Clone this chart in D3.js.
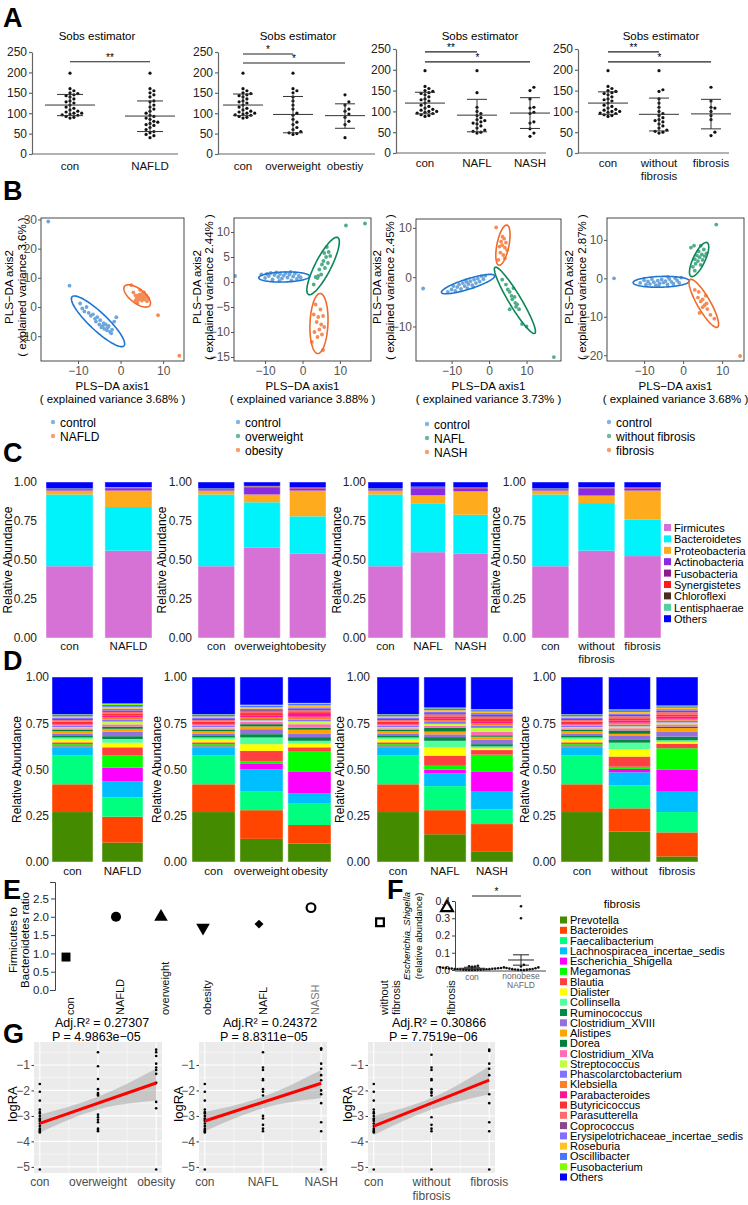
<!DOCTYPE html>
<html><head><meta charset="utf-8">
<script src="https://cdn.jsdelivr.net/npm/d3@7"></script>
<style>body{margin:0;background:#fff} svg{display:block}</style>
</head><body>
<svg id="fig" width="748" height="1205"></svg>
<script>
const FONT = "Arial, 'Liberation Sans', Helvetica, sans-serif"
const svg = d3.select("#fig").attr("font-family", FONT)

// ---------------- data ----------------
// A: Sobs estimator
const sobsCon = [198,160,155,150,148,145,143,140,135,130,128,125,120,115,112,108,105,103,100,100,98,96,95,92,90,88]
const sobsNAFLD = [198,160,155,150,145,140,130,128,120,115,110,105,100,95,92,88,85,80,78,75,72,70,65,60,55,52,48,45,40]
const sobsOverweight = [198,160,155,150,140,130,120,110,100,95,85,78,72,65,60,55,52,50,48]
const sobsObesity = [145,128,120,110,105,98,90,80,72,40]
const sobsNAFL = [198,145,110,100,95,90,85,80,78,75,72,70,65,60,55,52,50,48]
const sobsNASH = [158,150,130,110,108,98,95,75,72,58,48,40]
const sobsWithout = [198,152,148,130,120,110,100,95,90,85,80,78,75,70,65,60,55,52,50,48]
const sobsFibrosis = [158,125,110,108,100,90,80,50,42]
// mean, upper, lower
const sobsStats1 = [[120,146,94],[93,130,55]]
const sobsStats2 = [[120,147,94],[97,141,52],[94,123,63]]
const sobsStats3 = [[120,146,94],[91,129,51],[96,133,59]]
const sobsStats4 = [[120,147,93],[93,132,53],[94,129,58]]
const sobsSig1 = [[0,1,226,"**"]]
const sobsSig2 = [[0,1,245,"*"],[0,2,223,"*"]]
const sobsSig3 = [[0,1,243,"**"],[0,2,219,"*"]]
const sobsSig4 = [[0,1,243,"**"],[0,2,219,"*"]]

// B: PLS-DA scores
const plsCon1 = [[-17,29.3],[-12,7.3],[-9.5,1.2],[-9,-0.5],[-8.5,-1.5],[-8,0],[-7.5,-2],[-7,-3],[-6.5,-2.5],[-6,-4],[-5.8,-5],[-5.5,-3.5],[-5,-6],[-4.8,-4.5],[-4.5,-7],[-4.2,-6.5],[-4,-5.5],[-3.8,-7.5],[-3.5,-6],[-3.2,-8],[-3,-7],[-2.8,-6.5],[-2.5,-8.5],[-2,-7.8],[-1.5,-5],[-1,-3.5],[-2.2,-9]]
const plsNAFLD1 = [[2.5,7.5],[3,5],[3.5,4],[3.8,3],[4,3.8],[4.2,2.5],[4.4,4.2],[4.5,3.2],[4.7,2.8],[4.8,3.6],[5,4.5],[5,2.2],[5.2,3],[5.4,3.8],[5.6,2.6],[5.8,3.4],[6,4],[6.2,2],[4,1.5],[3.5,2.2],[5.5,5],[4.6,5.8],[6.5,3],[8.8,-2.8],[13.8,-16.7]]
const plsCon2 = [[-18,1.2],[-11,1.5],[-10,0.8],[-9.5,1.6],[-9,1.2],[-8.5,1.8],[-8,0.5],[-7.5,1.4],[-7,1.9],[-6.5,1],[-6,1.6],[-5.5,0.7],[-5,1.3],[-4.5,1.8],[-4,0.9],[-3.5,1.5],[-3,0.3],[-2.5,1.1],[-2,1.7],[-1.5,0.6],[-1,1.2],[-0.5,0.9],[-6.2,0.2],[-3.2,2]]
const plsOverweight2 = [[3,-0.5],[3.5,1],[4,0.8],[4.5,2.5],[5,1.5],[5.2,3.5],[5.6,4.2],[6,2.8],[6.3,5],[6.8,3.8],[7,6],[7.4,5.2],[4.2,1.2],[6.5,7],[5.8,5.8],[11.6,11.3],[16.7,11.7]]
const plsObesity2 = [[2.5,-12],[3,-6.5],[3.2,-10],[3.5,-4.5],[3.8,-8],[4,-11],[4.2,-7],[4.5,-9.5],[4.8,-5.5],[5,-8.5],[5.2,-10.5],[5.5,-6.8],[5.8,-9],[5.5,-13.6]]
const plsCon3 = [[-17.6,-2.3],[-11,-3],[-10,-2.5],[-9.5,-1.8],[-9,-2.8],[-8.5,-2],[-8,-1.5],[-7.5,-2.4],[-7,-1.2],[-6.5,-1.8],[-6,-1],[-5.8,-2.2],[-5.5,-1.4],[-5,-0.8],[-4.5,-1.6],[-4,-0.5],[-3.5,-1.2],[-3,-0.3],[-2.5,-0.9],[-2,0.2],[-1.5,-0.4],[-1,0.3],[-6.2,-0.6],[-4.2,-2]]
const plsNAFL3 = [[3.5,-0.5],[4.5,-1.5],[5,-2.5],[5.5,-3],[6,-3.8],[6.2,-4.5],[6.8,-4],[7,-5.2],[7.2,-6],[7.5,-5.5],[8,-6.5],[5.5,-6.5],[8.8,-9.5],[10,-10],[6.5,-2.2],[17.3,-16.2]]
const plsNASH3 = [[1.9,10.1],[2.5,3.5],[3,5],[3.2,7.2],[3.5,6.5],[3.8,4.5],[4,7.8],[4.2,6],[4.5,7],[4.8,5.5],[3.6,8.2],[4.2,3.8],[2.8,6.2]]
const plsCon4 = [[-17.7,0],[-11,-1.2],[-10,-0.5],[-9.5,-1.6],[-9,-0.8],[-8.5,-1.5],[-8,-0.2],[-7.5,-1],[-7,-1.8],[-6.5,-0.6],[-6,-1.3],[-5.5,-0.3],[-5,-1.1],[-4.5,-0.7],[-4,-1.6],[-3.5,-0.2],[-3,-0.9],[-2.5,-1.4],[-2,0],[-1.5,-0.6],[-1,-1.2],[-0.5,0.2],[-6.2,-1.9],[-3.8,0.3]]
const plsWithout4 = [[2,8],[2.5,3],[3,5],[3.2,3.8],[3.5,6],[3.8,4.5],[4,7],[4.2,5.5],[4.5,3.5],[4.8,6.2],[5,4.8],[5.3,7.5],[5.5,5.8],[3,2],[4.5,8.5],[6,6.5],[2.8,8.5],[8.5,14]]
const plsFibrosis4 = [[3,-3],[3.8,-5],[4,-3.5],[4.5,-6],[5,-5.5],[5,-7.5],[5.5,-7],[6,-6.5],[6.2,-8],[4.2,-9],[7,-9.5],[8,-10.5],[5.8,-4.5],[14.6,-20.2]]
// confidence ellipses: centre x, centre y, semi-axis u (x,y), semi-axis v (x,y)
const ellipses1 = [[-5.3,-4.9,6.1,-8.4,1.4,2.2],[3.9,3.8,2.96,-3.3,1.0,1.95]]
const ellipses2 = [[-4.9,1.0,6.8,0.15,0,1.0],[5.5,3.2,3.9,5.7,1.9,-0.7],[4.4,-8.3,0.3,6.0,2.4,0]]
const ellipses3 = [[-5.6,-1.4,7.1,1.7,0.4,-1.0],[6.9,-4.7,5.3,-6.7,1.4,0.63],[3.7,6.5,1.07,4.06,1.57,-0.24]]
const ellipses4 = [[-5.6,-0.9,7.2,0.2,0,1.4],[4.1,4.9,2.05,4.4,1.38,-0.65],[5.3,-6.5,3.5,-6.2,1.45,0.83]]
const varAxis1 = ["3.68%","3.88%","3.73%","3.68%"]
const varAxis2 = ["3.6%","2.44%","2.45%","2.87%"]

// C: phylum level
const phyla = ["Firmicutes","Bacteroidetes","Proteobacteria","Actinobacteria","Fusobacteria","Synergistetes","Chloroflexi","Lentisphaerae","Others"]
const phylumCon = [0.46,0.46,0.025,0.008,0.002,0.001,0.001,0.002,0.041]
const phylumNAFLD = [0.56,0.28,0.105,0.015,0.003,0.002,0.001,0.002,0.032]
const phylumOverweight = [0.58,0.29,0.05,0.045,0.005,0.002,0.001,0.002,0.025]
const phylumObesity = [0.54,0.24,0.165,0.012,0.003,0.002,0.001,0.002,0.035]
const phylumNAFL = [0.55,0.31,0.055,0.045,0.006,0.002,0.001,0.001,0.03]
const phylumNASH = [0.54,0.25,0.15,0.016,0.004,0.002,0.001,0.002,0.035]
const phylumWithout = [0.56,0.305,0.048,0.045,0.006,0.002,0.001,0.001,0.032]
const phylumFibrosis = [0.525,0.235,0.185,0.012,0.003,0.002,0.001,0.002,0.035]

// D: genus level
const genera = ["Prevotella","Bacteroides","Faecalibacterium","Lachnospiracea_incertae_sedis","Escherichia_Shigella","Megamonas","Blautia","Dialister","Collinsella","Ruminococcus","Clostridium_XVIII","Alistipes","Dorea","Clostridium_XlVa","Streptococcus","Phascolarctobacterium","Klebsiella","Parabacteroides","Butyricicoccus","Parasutterella","Coprococcus","Erysipelotrichaceae_incertae_sedis","Roseburia","Oscillibacter","Fusobacterium","Others"]
const genusCon = [0.27,0.15,0.155,0.045,0.005,0.012,0.01,0.018,0.008,0.012,0.01,0.012,0.008,0.008,0.006,0.008,0.006,0.008,0.008,0.008,0.006,0.006,0.008,0.01,0.002,0.201]
const genusNAFLD = [0.105,0.14,0.105,0.085,0.075,0.065,0.045,0.025,0.02,0.015,0.025,0.015,0.012,0.012,0.015,0.01,0.012,0.01,0.01,0.01,0.008,0.01,0.01,0.01,0.008,0.143]
const genusOverweight = [0.125,0.155,0.10,0.12,0.03,0.015,0.055,0.037,0.036,0.018,0.027,0.015,0.012,0.012,0.008,0.008,0.01,0.01,0.012,0.008,0.008,0.008,0.008,0.008,0.005,0.15]
const genusObesity = [0.1,0.1,0.115,0.055,0.12,0.11,0.02,0.02,0.015,0.02,0.02,0.02,0.01,0.02,0.015,0.01,0.015,0.015,0.01,0.01,0.008,0.008,0.01,0.01,0.004,0.14]
const genusNAFL = [0.15,0.13,0.13,0.07,0.02,0.02,0.055,0.045,0.035,0.02,0.015,0.015,0.02,0.012,0.01,0.01,0.01,0.01,0.01,0.01,0.008,0.008,0.008,0.01,0.004,0.165]
const genusNASH = [0.055,0.15,0.08,0.095,0.11,0.09,0.025,0.01,0.01,0.012,0.025,0.015,0.008,0.02,0.02,0.012,0.012,0.012,0.012,0.012,0.01,0.01,0.008,0.008,0.005,0.174]
const genusWithout = [0.165,0.125,0.125,0.07,0.018,0.012,0.055,0.04,0.035,0.018,0.018,0.012,0.018,0.012,0.01,0.01,0.01,0.012,0.012,0.01,0.008,0.008,0.008,0.01,0.004,0.175]
const genusFibrosis = [0.03,0.13,0.11,0.11,0.12,0.115,0.025,0.008,0.01,0.02,0.028,0.018,0.008,0.012,0.01,0.01,0.01,0.012,0.012,0.012,0.008,0.008,0.008,0.008,0.004,0.154]

// E: Firmicutes / Bacteroidetes
const ratioCats = ["con","NAFLD","overweight","obesity","NAFL","NASH","without\nfibrosis","fibrosis"]
const ratioVals = [0.9,2.0,2.0,1.7,1.8,2.25,1.85,2.25]

// F: Escherichia_Shigella
const escCon = [0,0,0,0.001,0.001,0.002,0.002,0.003,0.003,0.004,0.005,0.005,0.006,0.007,0.008,0.008,0.009,0.01,0.011,0.012,0.013,0.015,0.016,0.018,0.02,0.022,0.025]
const escNAFLD = [0,0,0.001,0.002,0.003,0.004,0.005,0.006,0.008,0.01,0.012,0.015,0.02,0.03,0.30,0.37]
const escStats = [[0.01,0.016,0.004],[0.058,0.088,0.028]]

// G: logRA regressions
const logCon = [-1.75,-2.05,-2.4,-2.75,-2.85,-2.9,-3.0,-3.1,-3.15,-3.2,-3.3,-3.4,-3.5,-3.55,-3.6,-3.65,-5.1]
const logOverweight = [-0.5,-1.05,-1.55,-1.95,-2.1,-2.15,-2.2,-2.95,-3.05,-3.15,-3.25,-3.5,-3.55,-3.6]
const logObesity = [-0.4,-0.5,-0.65,-0.95,-1.1,-1.2,-1.35,-1.7,-2.45,-2.7,-5.1]
const logNAFL = [-0.5,-1.1,-1.2,-1.55,-1.6,-1.95,-2.05,-2.2,-3.0,-3.1,-3.35,-3.5,-3.6]
const logNASH = [-0.35,-0.4,-0.95,-1.15,-1.4,-1.6,-2.0,-2.15,-2.5,-3.25,-3.6,-5.1]
const logWithout = [-0.6,-1.1,-1.2,-1.55,-1.6,-1.95,-2.05,-2.1,-2.2,-3.05,-3.35,-3.5,-3.6,-5.1]
const logFibrosis = [-0.4,-0.45,-0.95,-1.15,-1.4,-2.15,-2.5,-3.25,-3.6,-5.1]
const fitLines = [[-3.29,-1.71],[-3.2,-1.72],[-3.4,-1.6]]
const bandLow = [[-3.65,-2.75,-2.4],[-3.6,-2.7,-2.3],[-3.75,-2.75,-2.15]]
const bandHigh = [[-2.95,-2.25,-1.15],[-2.85,-2.25,-1.2],[-3.0,-2.3,-1.05]]
const adjR2 = ["0.27307","0.24372","0.30866"]
const pVals = ["4.9863e\u221205","8.8311e\u221205","7.7519e\u221206"]

// ---------------- styles ----------------
const phylumColors = ["#d672d6","#00f2fa","#ffab1e","#8a2be2","#8b1c8a","#ff1a1a","#4b2d1f","#52d1a0","#0000ff"]
const genusColors = ["#458b00","#ff4500","#00ff7f","#00bfff","#ff00ff","#00ff00","#ff4040","#ffff00","#54ff9f","#008b45","#9370db","#ffa500","#00803a","#ff6eb4","#c0ff3e","#8470ff","#ff7f24","#ff1493","#ff3030","#ff6a6a","#8b4789","#836fff","#ffc125","#4876ff","#7fff00","#0000ff"]
const ptCol = {blue:"#6ea6dc", green:"#4fae88", orange:"#f68c55"}
const elCol = {blue:"#1f76d2", green:"#0c8658", orange:"#f26a2a"}

function fontAxis(sel, size, color) {
  sel.attr("font-family", FONT).attr("font-size", size)
  sel.selectAll("text").attr("fill", color)
}
function multiline(g, str, x, y, dy, attrs) {
  str.split("\n").forEach((s, i) => {
    const t = g.append("text").attr("x", x).attr("y", y + i * dy).text(s)
    Object.entries(attrs).forEach(([k, v]) => t.attr(k, v))
  })
}
// deterministic beeswarm offsets
function swarm(vals, yScale, d) {
  const placed = []
  return vals.slice().sort((a, b) => a - b).map(v => {
    const py = yScale(v)
    let off = 0
    for (let k = 0; k < 40; k++) {
      const cand = k === 0 ? 0 : (k % 2 ? 1 : -1) * Math.ceil(k / 2) * d
      if (!placed.some(p => Math.hypot(p[0] - cand, p[1] - py) < d - 0.1)) { off = cand; break }
    }
    placed.push([off, py])
    return [off, py]
  })
}

// panel letters
;[["A",3,27],["B",3,200],["C",3,462],["D",3,670],["E",3,899],["F",387,899],["G",3,1043]].forEach(l => {
  svg.append("text").attr("x", l[1]).attr("y", l[2]).attr("font-size", 27).attr("font-weight", "bold").attr("fill", "#000").text(l[0])
})

// ---------------- A ----------------
const panelsA = [
  {x0:32, x1:178, yTop:52, yBot:154, cx:[70,150], title:97, labY:170, hw:25, sw:13, cats:["con","NAFLD"], groups:[sobsCon,sobsNAFLD], stats:sobsStats1, sig:sobsSig1},
  {x0:218, x1:375, yTop:52, yBot:154, cx:[243,293,345], title:298, labY:170, hw:20, sw:10, cats:["con","overweight","obestiy"], groups:[sobsCon,sobsOverweight,sobsObesity], stats:sobsStats2, sig:sobsSig2},
  {x0:396, x1:546, yTop:49, yBot:153, cx:[425,477,530], title:480, labY:167, hw:20, sw:10, cats:["con","NAFL","NASH"], groups:[sobsCon,sobsNAFL,sobsNASH], stats:sobsStats3, sig:sobsSig3},
  {x0:578, x1:729, yTop:49, yBot:153, cx:[608,659,711], title:661, labY:167, hw:20, sw:10, cats:["con","without\nfibrosis","fibrosis"], groups:[sobsCon,sobsWithout,sobsFibrosis], stats:sobsStats4, sig:sobsSig4}
]
panelsA.forEach(p => {
  const g = svg.append("g")
  const y = d3.scaleLinear([0, 250], [p.yBot, p.yTop])
  const x = d3.scaleOrdinal(d3.range(p.cats.length), p.cx)
  g.append("g").attr("transform", `translate(${p.x0},0)`)
    .call(d3.axisLeft(y).tickValues([0,50,100,150,200,250]).tickSize(3).tickSizeOuter(0).tickPadding(2))
    .call(s => { fontAxis(s, 12, "#222"); s.selectAll("line,path").attr("stroke", "#666").attr("stroke-width", 1.2) })
  g.append("line").attr("x1", p.x0).attr("x2", p.x1).attr("y1", p.yBot).attr("y2", p.yBot).attr("stroke", "#666").attr("stroke-width", 1.2)
  g.append("text").attr("x", p.title).attr("y", 40).attr("text-anchor", "middle").attr("font-size", 11.5).text("Sobs estimator")
  p.cats.forEach((c, i) => multiline(g, c, x(i), p.labY, 13, {"text-anchor":"middle","font-size":11.5,"fill":"#111"}))
  p.groups.forEach((vals, i) => {
    swarm(vals, y, 3.9).forEach(pt => g.append("circle").attr("cx", x(i) + pt[0]).attr("cy", pt[1]).attr("r", 1.6).attr("fill", "#111"))
    const st = p.stats[i]
    const ln = (x1, x2, y1, y2) => g.append("line").attr("x1", x1).attr("x2", x2).attr("y1", y1).attr("y2", y2).attr("stroke", "#333").attr("stroke-width", 1)
    ln(x(i) - p.hw, x(i) + p.hw, y(st[0]), y(st[0]))
    ln(x(i) - p.sw, x(i) + p.sw, y(st[1]), y(st[1]))
    ln(x(i) - p.sw, x(i) + p.sw, y(st[2]), y(st[2]))
    ln(x(i), x(i), y(st[1]), y(st[2]))
  })
  p.sig.forEach(s => {
    g.append("line").attr("x1", x(s[0])).attr("x2", x(s[1])).attr("y1", y(s[2])).attr("y2", y(s[2])).attr("stroke", "#222").attr("stroke-width", 1.1)
    g.append("text").attr("x", (x(s[0]) + x(s[1])) / 2).attr("y", y(s[2]) - 1).attr("text-anchor", "middle").attr("font-size", 10).text(s[3])
  })
})

// ---------------- B ----------------
const panelsB = [
  {fx0:41, fx1:184, fy0:218, fy1:361, xd:[-18.7,14.9], yd:[-18.5,30.5], yt:[-10,0,10,20,30], l1:13, l2:26, legX:53, legY:422,
   sets:[[plsCon1,"blue"],[plsNAFLD1,"orange"]], ell:ellipses1, names:["control","NAFLD"]},
  {fx0:234, fx1:371, fy0:218, fy1:361, xd:[-18.3,18.3], yd:[-15.8,12.8], yt:[-15,-10,-5,0,5,10], l1:201, l2:213, legX:238, legY:422,
   sets:[[plsCon2,"blue"],[plsOverweight2,"green"],[plsObesity2,"orange"]], ell:ellipses2, names:["control","overweight","obesity"]},
  {fx0:416, fx1:561, fy0:219, fy1:361, xd:[-19.5,19.2], yd:[-17,11.8], yt:[-10,0,10], l1:381, l2:394, legX:427, legY:424,
   sets:[[plsCon3,"blue"],[plsNAFL3,"green"],[plsNASH3,"orange"]], ell:ellipses3, names:["control","NAFL","NASH"]},
  {fx0:607, fx1:744, fy0:218, fy1:361, xd:[-19.5,15.6], yd:[-21.5,15.7], yt:[-20,-10,0,10], l1:573, l2:586, legX:609, legY:422,
   sets:[[plsCon4,"blue"],[plsWithout4,"green"],[plsFibrosis4,"orange"]], ell:ellipses4, names:["control","without fibrosis","fibrosis"]}
]
panelsB.forEach((p, pi) => {
  const g = svg.append("g")
  const x = d3.scaleLinear(p.xd, [p.fx0, p.fx1])
  const y = d3.scaleLinear(p.yd, [p.fy1, p.fy0])
  const cid = "clipB" + pi
  g.append("clipPath").attr("id", cid).append("rect").attr("x", p.fx0).attr("y", p.fy0).attr("width", p.fx1 - p.fx0).attr("height", p.fy1 - p.fy0)
  const inner = g.append("g").attr("clip-path", `url(#${cid})`)
  p.sets.forEach(s => {
    inner.selectAll(null).data(s[0]).join("circle").attr("cx", d => x(d[0])).attr("cy", d => y(d[1])).attr("r", 1.9).attr("fill", ptCol[s[1]])
  })
  const line = d3.line().curve(d3.curveLinearClosed)
  p.ell.forEach((e, i) => {
    const pts = d3.range(0, 2 * Math.PI, Math.PI / 50).map(t => [
      x(e[0] + e[2] * Math.cos(t) + e[4] * Math.sin(t)),
      y(e[1] + e[3] * Math.cos(t) + e[5] * Math.sin(t))])
    inner.append("path").attr("d", line(pts)).attr("fill", "none").attr("stroke", elCol[p.sets[i][1]]).attr("stroke-width", 1.6)
  })
  g.append("rect").attr("x", p.fx0).attr("y", p.fy0).attr("width", p.fx1 - p.fx0).attr("height", p.fy1 - p.fy0).attr("fill", "none").attr("stroke", "#333").attr("stroke-width", 0.9)
  g.append("g").attr("transform", `translate(0,${p.fy1})`).call(d3.axisBottom(x).tickValues([-10,0,10]).tickSize(3).tickPadding(2))
    .call(s => { s.select(".domain").remove(); fontAxis(s, 12, "#555"); s.selectAll("line").attr("stroke", "#555") })
  g.append("g").attr("transform", `translate(${p.fx0},0)`).call(d3.axisLeft(y).tickValues(p.yt).tickSize(3).tickPadding(1))
    .call(s => { s.select(".domain").remove(); fontAxis(s, 12, "#555"); s.selectAll("line").attr("stroke", "#555") })
  const mx = (p.fx0 + p.fx1) / 2
  g.append("text").attr("x", mx).attr("y", 390).attr("text-anchor", "middle").attr("font-size", 11.5).text("PLS\u2212DA axis1")
  g.append("text").attr("x", mx).attr("y", 403).attr("text-anchor", "middle").attr("font-size", 11.5).text(`( explained variance ${varAxis1[pi]} )`)
  const my = 287
  g.append("text").attr("transform", `translate(${p.l1},${my}) rotate(-90)`).attr("text-anchor", "middle").attr("font-size", 11.5).text("PLS\u2212DA axis2")
  g.append("text").attr("transform", `translate(${p.l2},${my}) rotate(-90)`).attr("text-anchor", "middle").attr("font-size", 11.5).text(`( explained variance ${varAxis2[pi]} )`)
  p.names.forEach((n, i) => {
    g.append("circle").attr("cx", p.legX).attr("cy", p.legY + i * 14).attr("r", 2.2).attr("fill", ptCol[p.sets[i][1]]).attr("opacity", 0.85)
    g.append("text").attr("x", p.legX + 7).attr("y", p.legY + i * 14 + 4.5).attr("font-size", 12).text(n)
  })
})

// ---------------- stacked bars (C, D) ----------------
function drawStack(p, keys, colors, rows) {
  const g = svg.append("g")
  const idx = d3.range(rows.length)
  const x = d3.scaleBand(idx, [p.b0, p.b1]).paddingInner(p.pad)
  const y = d3.scaleLinear([0, 1], [p.y0, p.y1])
  const table = rows.map(r => Object.fromEntries(keys.map((k, j) => [k, r[j]])))
  const series = d3.stack().keys(keys)(table)
  series.forEach((s, si) => {
    g.selectAll(null).data(s).join("rect")
      .attr("x", (d, i) => x(i)).attr("width", x.bandwidth())
      .attr("y", d => y(Math.min(d[1], 1))).attr("height", d => y(d[0]) - y(Math.min(d[1], 1)))
      .attr("fill", colors[si])
  })
  g.selectAll(null).data(idx).join("rect").attr("x", i => x(i)).attr("width", x.bandwidth())
    .attr("y", y(1)).attr("height", y(0) - y(1)).attr("fill", "none").attr("stroke", "#ffffff").attr("stroke-opacity", 0.45).attr("stroke-width", 1)
  g.append("g").attr("transform", `translate(${p.ax},0)`).call(d3.axisLeft(y).tickValues([0,0.25,0.5,0.75,1]).tickFormat(d3.format(".2f")).tickSize(0).tickPadding(0))
    .call(s => { s.select(".domain").remove(); fontAxis(s, 12, "#222") })
  g.append("text").attr("transform", `translate(${p.lx},${(p.y0 + p.y1) / 2}) rotate(-90)`).attr("text-anchor", "middle").attr("font-size", 12).text("Relative Abundance")
  p.labels.forEach((l, i) => multiline(g, l, x(i) + x.bandwidth() / 2, p.ly, 13, {"text-anchor":"middle","font-size":11.5,"fill":"#111"}))
}
const cY = {y0:638, y1:482, ly:650}
drawStack({...cY, b0:46, b1:152, pad:0.2, ax:37, lx:12, labels:["con","NAFLD"]}, phyla, phylumColors, [phylumCon, phylumNAFLD])
drawStack({...cY, b0:198, b1:326, pad:0.2, ax:192, lx:166, labels:["con","overweight","obesity"]}, phyla, phylumColors, [phylumCon, phylumOverweight, phylumObesity])
drawStack({...cY, b0:368, b1:488, pad:0.18, ax:366, lx:341, labels:["con","NAFL","NASH"]}, phyla, phylumColors, [phylumCon, phylumNAFL, phylumNASH])
drawStack({...cY, b0:532, b1:661, pad:0.2, ax:526, lx:500, labels:["con","without\nfibrosis","fibrosis"]}, phyla, phylumColors, [phylumCon, phylumWithout, phylumFibrosis])

const dY = {y0:862, y1:677, ly:875}
drawStack({...dY, b0:52, b1:143, pad:0.18, ax:49, lx:21, labels:["con","NAFLD"]}, genera, genusColors, [genusCon, genusNAFLD])
drawStack({...dY, b0:192, b1:331, pad:0.1, ax:187, lx:161, labels:["con","overweight","obesity"]}, genera, genusColors, [genusCon, genusOverweight, genusObesity])
drawStack({...dY, b0:377, b1:513, pad:0.1, ax:370, lx:344, labels:["con","NAFL","NASH"]}, genera, genusColors, [genusCon, genusNAFL, genusNASH])
drawStack({...dY, b0:561, b1:698, pad:0.12, ax:556, lx:529, labels:["con","without","fibrosis"]}, genera, genusColors, [genusCon, genusWithout, genusFibrosis])

// phylum legend
const legC = svg.append("g")
phyla.forEach((n, i) => {
  legC.append("rect").attr("x", 664).attr("y", 524 + i * 11.4).attr("width", 7).attr("height", 7).attr("fill", phylumColors[i])
  legC.append("text").attr("x", 674).attr("y", 532 + i * 11.4).attr("font-size", 11).text(n)
})

// ---------------- E ----------------
const gE = svg.append("g")
const yE = d3.scaleLinear([0, 2.95], [990, 882])
const xE = d3.scaleOrdinal(ratioCats, [66,116,161,203,259,311,380,447])
gE.append("g").attr("transform", "translate(55,0)").call(d3.axisLeft(yE).tickValues([0,0.5,1,1.5,2,2.5]).tickFormat(d3.format(".1f")).tickSize(4).tickSizeOuter(5).tickPadding(2))
  .call(s => { fontAxis(s, 11.5, "#222"); s.selectAll("line,path").attr("stroke", "#444") })
gE.append("text").attr("transform", "translate(17,940) rotate(-90)").attr("text-anchor", "middle").attr("font-size", 11.5).text("Firmicutes to")
gE.append("text").attr("transform", "translate(29,940) rotate(-90)").attr("text-anchor", "middle").attr("font-size", 11.5).text("Bacteroidetes ratio")
const eShapes = [
  [d3.symbolSquare, 0, true], [d3.symbolCircle, 0, true], [d3.symbolTriangle, 0, true], [d3.symbolTriangle, 180, true],
  [d3.symbolSquare, 45, true], [d3.symbolCircle, 0, false], [d3.symbolSquare, 0, false], [d3.symbolTriangle, 0, false]]
ratioCats.forEach((c, i) => {
  const sh = eShapes[i]
  const size = i === 4 ? 40 : (sh[2] ? 80 : 60)
  gE.append("path").attr("d", d3.symbol(sh[0], size)())
    .attr("transform", `translate(${xE(c)},${yE(ratioVals[i])}) rotate(${sh[1]})`)
    .attr("fill", sh[2] ? "#000" : "none").attr("stroke", "#000").attr("stroke-width", sh[2] ? 0 : 2.2)
  c.split("\n").forEach((s, k) => {
    gE.append("text").attr("transform", `translate(${xE(c) + 8 + k * 12},1015) rotate(-90)`).attr("font-size", 11)
      .attr("fill", c === "NASH" ? "#777" : "#111").text(s)
  })
})

// ---------------- F ----------------
const gF = svg.append("g")
const yF = d3.scaleLinear([0, 0.4], [970, 901])
const xF = d3.scaleOrdinal([0, 1], [472, 521])
gF.append("g").attr("transform", "translate(455,0)").call(d3.axisLeft(yF).tickValues([0,0.1,0.2,0.3,0.4]).tickFormat(d3.format(".1f")).tickSize(3).tickSizeOuter(0).tickPadding(2))
  .call(s => { fontAxis(s, 10.5, "#222"); s.selectAll("line,path").attr("stroke", "#444") })
gF.append("line").attr("x1", 455).attr("x2", 546).attr("y1", 971).attr("y2", 971).attr("stroke", "#444")
gF.append("text").attr("transform", "translate(410,936) rotate(-90)").attr("text-anchor", "middle").attr("font-size", 9.5).attr("font-style", "italic").text("Escherichia_Shigella")
gF.append("text").attr("transform", "translate(422,936) rotate(-90)").attr("text-anchor", "middle").attr("font-size", 9.5).text("(relative abundance)")
;[escCon, escNAFLD].forEach((vals, i) => {
  swarm(vals, yF, 2.9).forEach(pt => gF.append("circle").attr("cx", xF(i) + pt[0]).attr("cy", pt[1]).attr("r", 1.3).attr("fill", "#111"))
  const st = escStats[i]
  const ln = (x1, x2, y1, y2) => gF.append("line").attr("x1", x1).attr("x2", x2).attr("y1", y1).attr("y2", y2).attr("stroke", "#222").attr("stroke-width", 1)
  ln(xF(i) - 13, xF(i) + 13, yF(st[0]), yF(st[0]))
  ln(xF(i) - 8, xF(i) + 8, yF(st[1]), yF(st[1]))
  ln(xF(i) - 8, xF(i) + 8, yF(st[2]), yF(st[2]))
  ln(xF(i), xF(i), yF(st[1]), yF(st[2]))
})
gF.append("line").attr("x1", xF(0)).attr("x2", xF(1)).attr("y1", 896).attr("y2", 896).attr("stroke", "#222")
gF.append("text").attr("x", (xF(0) + xF(1)) / 2).attr("y", 895).attr("text-anchor", "middle").attr("font-size", 10).text("*")
gF.append("text").attr("x", xF(0)).attr("y", 980).attr("text-anchor", "middle").attr("font-size", 8.5).attr("fill", "#666").text("con")
multiline(gF, "nonobese\nNAFLD", xF(1), 979, 8.5, {"text-anchor":"middle","font-size":8.5,"fill":"#666"})

// genus legend
const legD = svg.append("g")
legD.append("text").attr("x", 622).attr("y", 908).attr("text-anchor", "middle").attr("font-size", 11.5).text("fibrosis")
genera.forEach((n, i) => {
  legD.append("rect").attr("x", 560).attr("y", 916.5 + i * 10.28).attr("width", 7).attr("height", 7).attr("fill", genusColors[i])
  legD.append("text").attr("x", 570).attr("y", 924 + i * 10.28).attr("font-size", 11).text(n)
})

// ---------------- G ----------------
const panelsG = [
  {px0:34, px1:162, cats:["con","overweight","obesity"], groups:[logCon, logOverweight, logObesity], lx:17, tx:55},
  {px0:199, px1:327, cats:["con","NAFL","NASH"], groups:[logCon, logNAFL, logNASH], lx:183, tx:223},
  {px0:368, px1:495, cats:["con","without\nfibrosis","fibrosis"], groups:[logCon, logWithout, logFibrosis], lx:352, tx:392}
]
panelsG.forEach((p, pi) => {
  const g = svg.append("g")
  const x = d3.scaleLinear([-0.1, 2.1], [p.px0, p.px1])
  const y = d3.scaleLinear([-5.24, -0.1], [1173, 1042])
  g.append("rect").attr("x", p.px0).attr("y", 1042).attr("width", p.px1 - p.px0).attr("height", 131).attr("fill", "#ebebeb")
  ;[-4.5,-3.5,-2.5,-1.5,-0.5].forEach(v => g.append("line").attr("x1", p.px0).attr("x2", p.px1).attr("y1", y(v)).attr("y2", y(v)).attr("stroke", "#fff").attr("stroke-width", 0.5))
  ;[0.5,1.5].forEach(v => g.append("line").attr("x1", x(v)).attr("x2", x(v)).attr("y1", 1042).attr("y2", 1173).attr("stroke", "#fff").attr("stroke-width", 0.5))
  ;[-5,-4,-3,-2,-1].forEach(v => g.append("line").attr("x1", p.px0).attr("x2", p.px1).attr("y1", y(v)).attr("y2", y(v)).attr("stroke", "#fff").attr("stroke-width", 1.1))
  ;[0,1,2].forEach(v => g.append("line").attr("x1", x(v)).attr("x2", x(v)).attr("y1", 1042).attr("y2", 1173).attr("stroke", "#fff").attr("stroke-width", 1.1))
  const area = d3.area().x(d => x(d[0])).y0(d => y(d[1])).y1(d => y(d[2])).curve(d3.curveNatural)
  g.append("path").attr("d", area([0,1,2].map(k => [k, bandLow[pi][k], bandHigh[pi][k]]))).attr("fill", "#999").attr("fill-opacity", 0.45)
  p.groups.forEach((vals, i) => {
    g.selectAll(null).data(vals).join("circle").attr("cx", x(i)).attr("cy", d => y(d)).attr("r", 1.3).attr("fill", "#000")
  })
  g.append("line").attr("x1", x(0)).attr("x2", x(2)).attr("y1", y(fitLines[pi][0])).attr("y2", y(fitLines[pi][1])).attr("stroke", "#ff0000").attr("stroke-width", 3)
  g.append("g").attr("transform", `translate(${p.px0},0)`).call(d3.axisLeft(y).tickValues([-5,-4,-3,-2,-1]).tickFormat(d3.format("d")).tickSize(2.5).tickPadding(1.5))
    .call(s => { s.select(".domain").remove(); fontAxis(s, 12, "#4d4d4d"); s.selectAll("line").attr("stroke", "#333") })
  p.cats.forEach((c, i) => multiline(g, c, x(i), 1186, 14, {"text-anchor":"middle","font-size":12,"fill":"#4d4d4d"}))
  g.append("text").attr("transform", `translate(${p.lx},1104) rotate(-90)`).attr("text-anchor", "middle").attr("font-size", 13).text("logRA")
  g.append("text").attr("x", p.tx).attr("y", 1027).attr("font-size", 12.5).text(`Adj.R\u00b2 =  ${adjR2[pi]}`)
  g.append("text").attr("x", p.tx - 3).attr("y", 1041).attr("font-size", 12.5).text(`P = ${pVals[pi]}`)
})
</script></body></html>
